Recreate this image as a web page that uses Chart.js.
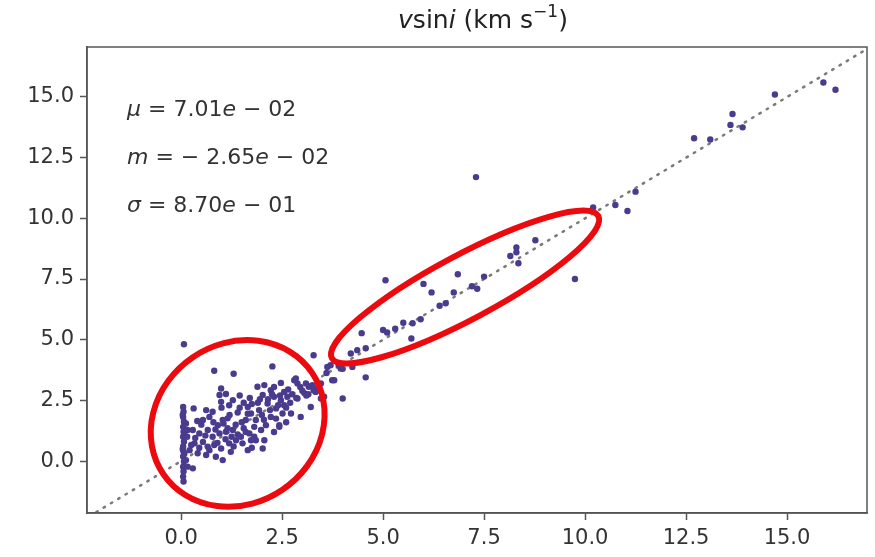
<!DOCTYPE html>
<html lang="en">
<head>
<meta charset="UTF-8">
<title>vsini</title>
<script src="https://cdn.jsdelivr.net/npm/chart.js"></script>
<style>
  html, body { margin: 0; padding: 0; background: #fff; }
</style>
</head>
<body>
<canvas id="vsiniChart" width="875" height="557"></canvas>
<script>
// tick values on both axes
const xTickVals = [0, 2.5, 5, 7.5, 10, 12.5, 15];
const yTickVals = [0, 2.5, 5, 7.5, 10, 12.5, 15];

// low vsini cluster (x = true, y = predicted)
const lowX = [0.05,0.06,0.05,0.07,0.05,0.06,0.05,0.07,0.05,0.06,0.05,0.07,0.05,0.06,0.05,0.06,0.07,0.04,0.08,0.04,0.08,
  0.12,0.16,0.15,0.25,0.21,0.12,0.16,0.29,0.31,
  0.82,1.3,0.99,0.95,1.11,0.99,1.19,1.28,0.62,0.78,0.54,0.7,0.91,1.03,1.15,0.29,0.45,0.66,0.78,0.95,1.11,1.28,
  0.33,0.54,0.66,0.82,0.99,1.19,1.36,1.48,0.41,0.62,0.86,1.03,1.23,1.65,1.73,1.6,1.81,1.69,1.52,1.85,1.65,
  2.26,2.47,2.84,2.88,3.09,3.16,3.25,3.37,3.28,3.46,3.21,2.96,2.72,2.88,1.89,2.06,2.22,2.02,2.3,2.47,2.14,2.35,
  1.93,2.51,2.22,1.85,2.1,2.43,1.98,1.81,2.06,2.02,1.73,2.8,2.63,2.43,
  1.4,1.5,1.35,1.55,1.45,1.7,1.9,2.0,2.2,2.4,2.6,2.7,1.2,0.5,0.85,1.4,1.6,1.3,0.45,0.7,1.1,2.3,2.6,2.55,2.3,1.0,0.8,1.25,
  2.15,2.45,2.65,2.75,2.95,3.05,1.75,1.95,2.25,2.55,1.45,1.65,0.35,0.6,1.05,1.55,2.05,2.85,3.15,0.4,0.9,1.75,2.35,1.15,3.35];
const lowY = [2.23,2.03,1.82,1.62,1.41,1.21,1.0,0.8,0.6,0.39,0.19,-0.02,-0.23,-0.43,-0.64,-0.84,4.81,1.9,1.1,0.5,0.3,
  1.55,1.28,1.0,0.66,0.45,0.04,-0.23,-0.3,2.17,
  3.72,3.6,2.99,2.72,2.76,2.44,2.3,2.51,2.1,2.03,1.69,1.82,1.48,1.69,1.76,1.28,1.14,1.28,1.0,1.14,1.21,1.28,
  0.73,0.79,0.59,0.66,0.52,0.73,0.86,1.0,0.32,0.25,0.18,0.04,0.38,2.23,1.96,1.69,1.41,1.14,0.73,0.86,0.45,
  3.9,3.22,3.4,3.2,3.2,3.06,3.13,3.0,2.92,2.58,2.23,1.82,1.96,2.58,3.06,3.13,2.92,2.72,2.65,2.51,2.37,2.17,
  2.1,1.96,1.82,1.69,1.48,1.41,1.28,1.0,0.86,0.52,0.86,3.33,2.65,1.48,
  2.0,1.6,1.5,2.4,2.7,2.6,2.4,1.9,2.1,2.3,2.2,2.4,1.9,1.5,1.3,1.1,1.2,0.6,0.55,0.45,0.9,1.2,1.6,2.85,3.05,2.2,1.6,1.0,
  2.55,2.7,2.95,2.75,3.05,2.8,2.35,2.55,2.75,2.3,2.2,1.95,0.95,1.05,1.55,1.35,1.7,2.6,2.75,1.65,0.75,0.55,1.75,1.35,2.9];

// transition region
const midX = [3.62,3.79,3.46,3.33,3.54,3.28,3.74,3.95,3.7,3.6,4.0,4.2,4.36,4.24,3.9,4.0,4.57,4.57,3.0,3.1,
  4.47,5.0,5.1,5.3,5.5,5.73,5.93,5.7,5.06,6.0,6.2,6.85,6.4,6.55,6.75,7.2,7.33,7.5,8.15,8.3,8.3,8.35,8.77,9.75,7.3];
const midY = [3.88,3.33,3.2,2.85,2.65,4.36,3.33,3.81,3.95,3.63,2.58,4.43,4.57,3.88,3.95,3.8,3.45,4.65,2.9,2.7,
  5.27,5.4,5.3,5.45,5.7,5.68,5.84,5.05,7.45,7.3,6.95,7.7,6.4,6.5,6.95,7.2,7.1,7.6,8.45,8.8,8.6,8.15,9.1,7.5,11.7];

// fast rotators
const highX = [10.2,10.75,11.05,11.25,12.7,13.1,13.65,13.6,13.9,14.7,15.9,16.2];
const highY = [10.45,10.55,10.3,11.1,13.3,13.25,14.3,13.85,13.75,15.1,15.6,15.3];

const statNames = ['μ', 'm', 'σ'];
const statValues = ['7.01e − 02', '− 2.65e − 02', '8.70e − 01'];

// annotation ellipses: centre in data units, radii in px
const ellipses = [
  { cx: 1.40, cy: 1.55, rx: 90, ry: 80, rot: -0.6 },
  { cx: 7.03, cy: 7.17, rx: 151, ry: 32, rot: -0.49 }
];

const points = [];
[[lowX, lowY], [midX, midY], [highX, highY]].forEach(([xs, ys]) => {
  xs.forEach((x, i) => points.push({ x: x, y: ys[i] }));
});

const FONT = "'DejaVu Sans', sans-serif";
const INK = '#333';

function drawRuns(ctx, runs, x, y, align) {
  let total = 0;
  runs.forEach(r => { ctx.font = r.font; total += ctx.measureText(r.text).width; });
  let cur = align === 'center' ? x - total / 2 : x;
  runs.forEach(r => {
    ctx.font = r.font;
    ctx.fillText(r.text, cur, y + (r.dy || 0));
    cur += ctx.measureText(r.text).width;
  });
}

const decorPlugin = {
  id: 'decor',
  afterDraw(chart) {
    const ctx = chart.ctx;
    const a = chart.chartArea;
    const xs = chart.scales.x, ys = chart.scales.y;
    ctx.save();
    // frame top and right
    ctx.strokeStyle = '#555';
    ctx.lineWidth = 1.5;
    ctx.strokeRect(a.left, a.top, a.right - a.left, a.bottom - a.top);

    // red ellipses
    ctx.strokeStyle = 'rgb(236,10,14)';
    ctx.lineWidth = 6;
    ellipses.forEach(e => {
      ctx.beginPath();
      ctx.ellipse(xs.getPixelForValue(e.cx), ys.getPixelForValue(e.cy), e.rx, e.ry, e.rot, 0, Math.PI * 2);
      ctx.stroke();
    });

    // title
    ctx.fillStyle = '#222';
    ctx.textBaseline = 'middle';
    const n = "25px " + FONT, it = "italic 25px " + FONT, sup = "17px " + FONT;
    drawRuns(ctx, [
      { text: 'v', font: it }, { text: 'sin', font: n }, { text: 'i', font: it },
      { text: ' (km s', font: n }, { text: '−1', font: sup, dy: -8 }, { text: ')', font: n }
    ], (a.left + a.right) / 2 + 6, 21, 'center');

    // stats text
    ctx.fillStyle = INK;
    const sn = "22px " + FONT, si = "italic 22px " + FONT;
    statNames.forEach((name, i) => {
      const runs = [{ text: name, font: si }, { text: ' = ', font: sn }];
      const parts = statValues[i].split('e');
      runs.push({ text: parts[0], font: sn }, { text: 'e', font: si }, { text: parts[1], font: sn });
      drawRuns(ctx, runs, 127, 110 + i * 48, 'left');
    });
    ctx.restore();
  }
};

function axisOpts(min, max, vals) {
  return {
    type: 'linear',
    min: min,
    max: max,
    afterBuildTicks: s => { s.ticks = vals.map(v => ({ value: v })); },
    ticks: {
      callback: v => v.toFixed(1),
      color: INK,
      font: { family: FONT, size: 21 },
      padding: 6,
      autoSkip: false,
      maxRotation: 0
    },
    grid: { display: true, drawOnChartArea: false, drawTicks: true, tickLength: 7, tickWidth: 1.5, tickColor: '#555' },
    border: { display: true, color: '#555', width: 1.5 }
  };
}

const xAxis = axisOpts(-2.33, 16.98, xTickVals);
xAxis.afterFit = s => { s.height = 44; };
const yAxis = axisOpts(-2.14, 17.06, yTickVals);
yAxis.afterFit = s => { s.width = 87; };

new Chart(document.getElementById('vsiniChart').getContext('2d'), {
  type: 'scatter',
  data: {
    datasets: [
      {
        type: 'scatter',
        data: points,
        backgroundColor: '#4a3b8f',
        borderWidth: 0,
        pointRadius: 3.2,
        order: 1
      },
      {
        type: 'line',
        data: [{ x: -3, y: -3 }, { x: 18, y: 18 }],
        borderColor: '#7a7a7a',
        borderWidth: 2.5,
        borderDash: [1.5, 7],
        borderCapStyle: 'round',
        pointRadius: 0,
        fill: false,
        order: 2
      }
    ]
  },
  options: {
    responsive: false,
    devicePixelRatio: 1,
    animation: false,
    layout: { padding: { top: 47, right: 8, left: 0, bottom: 0 } },
    plugins: { legend: { display: false }, tooltip: { enabled: false } },
    scales: { x: xAxis, y: yAxis }
  },
  plugins: [decorPlugin]
});
</script>
</body>
</html>
